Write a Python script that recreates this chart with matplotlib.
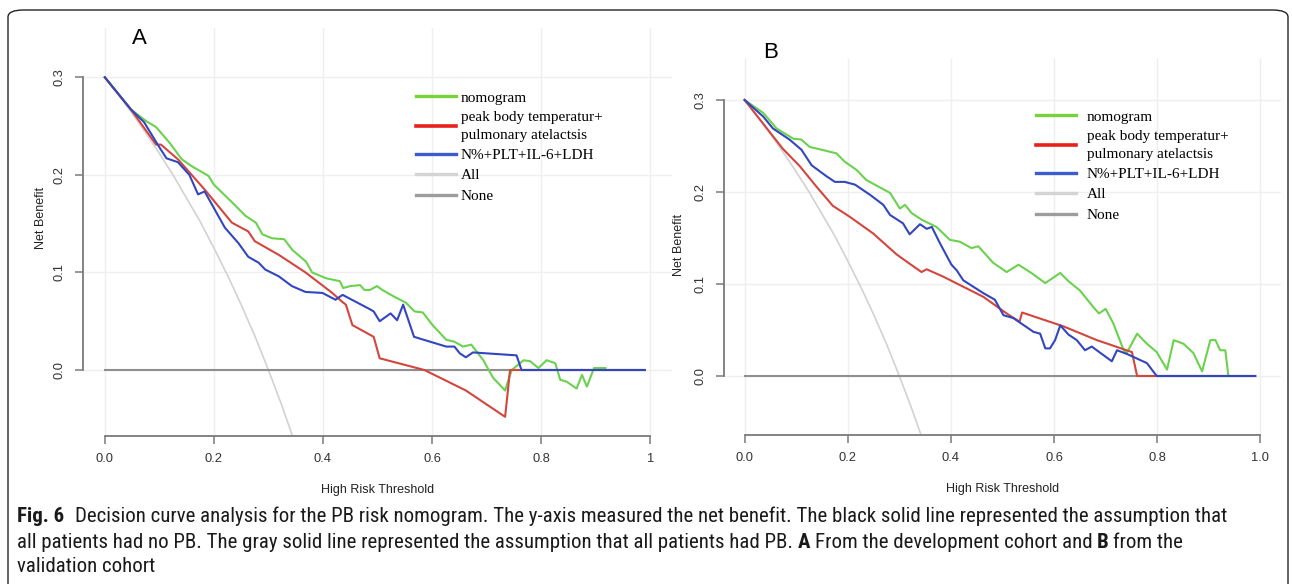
import matplotlib.pyplot as plt
from matplotlib.patches import FancyBboxPatch
from matplotlib.lines import Line2D
from matplotlib import font_manager

# ---- panel A : development cohort ----
a_nomo_x = [0, 0.048, 0.076, 0.094, 0.12, 0.141, 0.159, 0.19, 0.2, 0.233, 0.258, 0.277, 0.289,
            0.307, 0.329, 0.344, 0.369, 0.38, 0.406, 0.431, 0.437, 0.45, 0.468, 0.476, 0.486,
            0.499, 0.509, 0.531, 0.552, 0.568, 0.583, 0.601, 0.626, 0.641, 0.657, 0.672, 0.694,
            0.712, 0.734, 0.746, 0.768, 0.78, 0.795, 0.81, 0.826, 0.835, 0.847, 0.865, 0.875,
            0.884, 0.897, 0.918]
a_nomo_y = [0.3, 0.267, 0.255, 0.249, 0.232, 0.216, 0.209, 0.199, 0.19, 0.172, 0.158, 0.151, 0.139,
            0.135, 0.134, 0.123, 0.111, 0.1, 0.094, 0.091, 0.084, 0.086, 0.087, 0.082, 0.082,
            0.086, 0.082, 0.075, 0.069, 0.06, 0.059, 0.046, 0.031, 0.029, 0.024, 0.026, 0.01,
            -0.008, -0.021, 0.0, 0.01, 0.009, 0.002, 0.01, 0.007, -0.01, -0.012, -0.019, -0.005,
            -0.017, 0.002, 0.002]
a_clin_x = [0, 0.048, 0.094, 0.103, 0.134, 0.183, 0.233, 0.263, 0.275, 0.319, 0.368, 0.417, 0.435,
            0.442, 0.454, 0.493, 0.504, 0.586, 0.662, 0.734, 0.743, 0.99]
a_clin_y = [0.3, 0.267, 0.231, 0.231, 0.216, 0.185, 0.151, 0.142, 0.132, 0.118, 0.1, 0.079, 0.07,
            0.067, 0.046, 0.034, 0.012, 0.0, -0.021, -0.048, 0.0, 0.0]
a_lab_x = [0, 0.048, 0.072, 0.097, 0.113, 0.134, 0.155, 0.171, 0.183, 0.205, 0.22, 0.245, 0.263,
           0.282, 0.294, 0.319, 0.343, 0.368, 0.399, 0.423, 0.436, 0.487, 0.493, 0.504, 0.524,
           0.536, 0.547, 0.567, 0.626, 0.641, 0.651, 0.662, 0.675, 0.755, 0.764, 0.99]
a_lab_y = [0.3, 0.267, 0.254, 0.231, 0.217, 0.213, 0.2, 0.18, 0.183, 0.161, 0.146, 0.13, 0.116,
           0.11, 0.103, 0.096, 0.086, 0.08, 0.079, 0.072, 0.077, 0.062, 0.06, 0.05, 0.058,
           0.051, 0.067, 0.034, 0.024, 0.024, 0.017, 0.013, 0.018, 0.015, 0.0, 0.0]

# ---- panel B : validation cohort ----
b_nomo_x = [0, 0.036, 0.062, 0.094, 0.11, 0.126, 0.149, 0.178, 0.194, 0.217, 0.236, 0.259, 0.282,
            0.301, 0.311, 0.324, 0.343, 0.372, 0.398, 0.417, 0.44, 0.453, 0.482, 0.508, 0.531,
            0.556, 0.583, 0.596, 0.612, 0.628, 0.65, 0.676, 0.687, 0.7, 0.715, 0.735, 0.741,
            0.761, 0.78, 0.799, 0.819, 0.832, 0.851, 0.87, 0.887, 0.903, 0.913, 0.922, 0.932, 0.938]
b_nomo_y = [0.3, 0.286, 0.269, 0.258, 0.257, 0.249, 0.246, 0.242, 0.233, 0.224, 0.213, 0.206, 0.199,
            0.182, 0.186, 0.177, 0.17, 0.162, 0.148, 0.146, 0.139, 0.141, 0.123, 0.113, 0.121,
            0.112, 0.101, 0.106, 0.112, 0.103, 0.093, 0.075, 0.068, 0.073, 0.057, 0.028, 0.025,
            0.046, 0.035, 0.026, 0.007, 0.039, 0.035, 0.025, 0.005, 0.039, 0.039, 0.028, 0.028, 0.0]
b_clin_x = [0, 0.074, 0.107, 0.139, 0.171, 0.204, 0.249, 0.295, 0.32, 0.343, 0.353, 0.385, 0.424,
            0.463, 0.508, 0.533, 0.538, 0.618, 0.683, 0.751, 0.761, 0.99]
b_clin_y = [0.3, 0.247, 0.228, 0.206, 0.185, 0.173, 0.155, 0.132, 0.122, 0.113, 0.116, 0.108, 0.097,
            0.086, 0.068, 0.059, 0.069, 0.054, 0.039, 0.026, 0.0, 0.0]
b_lab_x = [0, 0.036, 0.055, 0.087, 0.11, 0.13, 0.159, 0.175, 0.194, 0.214, 0.243, 0.269, 0.282,
           0.307, 0.32, 0.34, 0.353, 0.363, 0.379, 0.401, 0.411, 0.424, 0.463, 0.485, 0.502,
           0.521, 0.56, 0.573, 0.583, 0.592, 0.602, 0.612, 0.628, 0.644, 0.66, 0.673, 0.712,
           0.722, 0.741, 0.78, 0.799, 0.99]
b_lab_y = [0.3, 0.282, 0.269, 0.257, 0.246, 0.229, 0.217, 0.211, 0.211, 0.208, 0.197, 0.186, 0.175,
           0.166, 0.154, 0.165, 0.16, 0.162, 0.144, 0.121, 0.115, 0.104, 0.09, 0.083, 0.066,
           0.063, 0.048, 0.046, 0.03, 0.03, 0.039, 0.055, 0.045, 0.039, 0.028, 0.032, 0.016,
           0.028, 0.024, 0.014, 0.0, 0.0]

# treat-all and treat-none reference curves (same prevalence in both cohorts)
all_x = [0, 0.025, 0.05, 0.075, 0.1, 0.125, 0.15, 0.175, 0.2, 0.225, 0.25, 0.275, 0.3, 0.325, 0.35]
all_y = [0.3, 0.282, 0.263, 0.243, 0.222, 0.2, 0.176, 0.152, 0.125, 0.097, 0.067, 0.035, 0.0, -0.037, -0.077]
none_x = [0, 0.99]
none_y = [0, 0]

labels = ["nomogram", "peak body temperatur+\npulmonary atelactsis", "N%+PLT+IL-6+LDH", "All", "None"]
yticks = [0.0, 0.1, 0.2, 0.3]
xticks = [0.0, 0.2, 0.4, 0.6, 0.8, 1.0]
xlabels_a = ["0.0", "0.2", "0.4", "0.6", "0.8", "1"]
xlabels_b = ["0.0", "0.2", "0.4", "0.6", "0.8", "1.0"]

c_green, c_red, c_blue = "#6ad24e", "#d4463d", "#3246bf"
c_all, c_none = "#d2d2d2", "#8f8f8f"
W, H = 1292, 584

fig = plt.figure(figsize=(12.92, 5.84), dpi=100)
fig.patch.set_facecolor("white")


def px_box(left, right, top, bottom):
    return [left / W, 1 - bottom / H, (right - left) / W, (bottom - top) / H]


def draw_panel(ax, nomo, clin, lab, ylim, xlabels):
    ax.set_xlim(-0.04, 1.04)
    ax.set_ylim(*ylim)
    for g in xticks:
        ax.axvline(g, color="#efefef", lw=1, zorder=0)
    for g in yticks:
        ax.axhline(g, color="#efefef", lw=1, zorder=0)
    ax.plot(all_x, all_y, color=c_all, lw=1.2, zorder=2)
    ax.plot(none_x, none_y, color=c_none, lw=1.5, zorder=2)
    ax.plot(*nomo, color=c_green, lw=1.5, zorder=3)
    ax.plot(*clin, color=c_red, lw=1.5, zorder=4)
    ax.plot(*lab, color=c_blue, lw=1.5, zorder=5)
    for s in ["top", "right"]:
        ax.spines[s].set_visible(False)
    ax.spines["left"].set_bounds(0, 0.3)
    ax.spines["bottom"].set_bounds(0, 1)
    for s in ["left", "bottom"]:
        ax.spines[s].set_color("#7a7a7a")
        ax.spines[s].set_linewidth(1.3)
    ax.set_xticks(xticks)
    ax.set_xticklabels(xlabels)
    ax.set_yticks(yticks)
    ax.set_yticklabels(["0.0", "0.1", "0.2", "0.3"], rotation=90, va="center")
    ax.tick_params(length=5.5, width=1.1, color="#7a7a7a", labelcolor="#333333",
                   labelsize=9.3, pad=7)
    for t in ax.get_xticklabels() + ax.get_yticklabels():
        t.set_family("Liberation Sans")
    ax.set_xlabel("High Risk Threshold", fontsize=9, family="Liberation Sans", color="#222222")
    ax.set_ylabel("Net Benefit", fontsize=9, family="Liberation Sans", color="#222222")
    ax.set_facecolor("none")


axA = fig.add_axes(px_box(83, 672, 28, 436))
draw_panel(axA, (a_nomo_x, a_nomo_y), (a_clin_x, a_clin_y), (a_lab_x, a_lab_y),
           ((370 - 436) / 975.7, (370 - 28) / 975.7), xlabels_a)
axA.xaxis.set_label_coords(0.5, -0.118)
axA.yaxis.set_label_coords(-0.061, 0.535)

axB = fig.add_axes(px_box(724, 1281, 58, 435))
draw_panel(axB, (b_nomo_x, b_nomo_y), (b_clin_x, b_clin_y), (b_lab_x, b_lab_y),
           ((376 - 435) / 920, (376 - 58) / 920), xlabels_b)
axB.xaxis.set_label_coords(0.5, -0.128)
axB.yaxis.set_label_coords(-0.07, 0.505)

handles = [Line2D([], [], color="#78d23c", lw=2.4),
           Line2D([], [], color="#e8211b", lw=2.6),
           Line2D([], [], color="#3a5ccc", lw=2.4),
           Line2D([], [], color="#d4d4d4", lw=2.4),
           Line2D([], [], color="#9d9d9d", lw=2.4)]

for ax, x0, y0, pad in [(axA, 416, 91, 0.33), (axB, 1036, 110, 0.72)]:
    leg = ax.legend(handles, labels, loc="upper left", bbox_to_anchor=(x0 / W, 1 - y0 / H),
                    bbox_transform=fig.transFigure, frameon=False, borderpad=0, borderaxespad=0,
                    handlelength=2.6, handletextpad=pad, labelspacing=0.44,
                    prop={"family": "Liberation Serif", "size": 11})
    for t in leg.get_texts():
        t.set_linespacing(1.42)

fig.text(139 / W, 1 - 38 / H, "A", fontsize=16, family="Liberation Sans", ha="center", va="center")
fig.text(771 / W, 1 - 53 / H, "B", fontsize=16, family="Liberation Sans", ha="center", va="center")

# rounded frame around the figure
frame = FancyBboxPatch((8 / W, -20 / H), 1280 / W, (584 + 20 - 10) / H,
                       boxstyle="round,pad=0,rounding_size=0.012", transform=fig.transFigure,
                       fill=False, edgecolor="#222222", lw=1.0)
fig.add_artist(frame)

# caption: pick a narrow face when one is installed, then fit it to the source line width
installed = {f.name for f in font_manager.fontManager.ttflist}
cap_font = "Liberation Sans"
cap_stretch = "normal"
for name in ["Liberation Sans Narrow", "Roboto Condensed", "Open Sans Condensed", "Noto Sans Condensed"]:
    if name in installed:
        cap_font = name
        break
else:
    narrow = [f for f in font_manager.fontManager.ttflist
              if f.name in ("DejaVu Sans", "Noto Sans") and f.stretch == "condensed"]
    if narrow:
        cap_font = narrow[0].name
        cap_stretch = "condensed"

caption = [
    (516, [("Fig. 6", "bold"), ("Decision curve analysis for the PB risk nomogram. The y-axis measured the net "
                                 "benefit. The black solid line represented the assumption that", "normal")]),
    (542, [("all patients had no PB. The gray solid line represented the assumption that all patients had PB.",
            "normal"), ("A", "bold"), ("From the development cohort and", "normal"), ("B", "bold"),
           ("from the", "normal")]),
    (567, [("validation cohort", "normal")]),
]
renderer = fig.canvas.get_renderer()


def set_caption(size):
    arts = []
    ends = []
    for ypix, pieces in caption:
        x = 17
        for i, (txt, wt) in enumerate(pieces):
            t = fig.text(x / W, 1 - ypix / H, txt, fontsize=size, family=cap_font, stretch=cap_stretch,
                         weight=wt, va="center", ha="left", color="#1a1a1a")
            arts.append(t)
            bb = t.get_window_extent(renderer=renderer)
            gap = size * 0.75 if i == 0 and txt.startswith("Fig") else size * 0.3
            x = bb.x1 + gap
        ends.append(x)
    return arts, ends


arts, ends = set_caption(12.0)
# source lines end near x=1263 and x=1150; fit the mean of both
size = 12.0 * ((1263 - 17) + (1150 - 17)) / ((ends[0] - 17) + (ends[1] - 17))
for a in arts:
    a.remove()
set_caption(size)

fig.savefig("out.png", dpi=100)
